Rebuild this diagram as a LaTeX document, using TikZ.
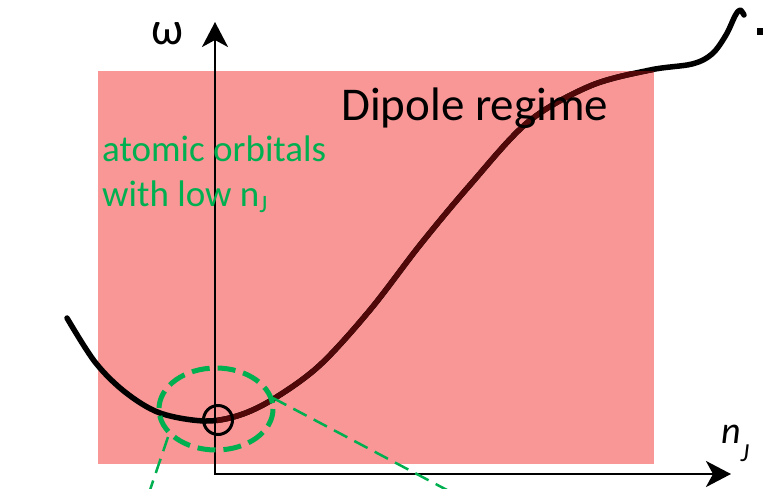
\documentclass[tikz,border=0pt]{standalone}
\usepackage{fontspec}
\setmainfont{Carlito}
\usetikzlibrary{arrows.meta}
\definecolor{pinkfill}{RGB}{249,150,150}
\definecolor{pptgreen}{RGB}{0,176,80}
\definecolor{darkcurve}{RGB}{80,8,8}
\newcommand\mycurvepts{(67,318) (95,362) (125,392) (160,413) (205,421) (240,415) (275,398) (320,365) (370,310) (420,245) (470,185) (528,122) (590,86) (650,70) (692,64) (712,54) (726,35) (735,16) (740,10) (744,15)}
\begin{document}
\begin{tikzpicture}[x=1pt,y=-1pt,
  curvestyle/.style={line width=5.5pt, line cap=round, line join=round},
  axisstyle/.style={line width=2.5pt, -{Stealth[length=25pt,width=26pt,inset=7pt]}},
  greendash/.style={pptgreen, line width=2.5pt, dash pattern=on 15pt off 8pt},
  ellipsedash/.style={pptgreen, line width=5pt, dash pattern=on 18pt off 8pt},
  lbl/.style={inner sep=0pt, anchor=base west}]
\useasboundingbox (0,0) rectangle (763,488);
\fill[pinkfill] (98,71) rectangle (654,464);
% curve
\draw[curvestyle] plot[smooth, tension=0.55] coordinates {\mycurvepts};
\begin{scope}
\clip (216.5,71) rectangle (654,464);
\draw[curvestyle, darkcurve] plot[smooth, tension=0.55] coordinates {\mycurvepts};
\end{scope}
% axes
\coordinate (O) at (215,474);
\coordinate (ytip) at (215,22);
\coordinate (xtip) at (731,474);
\draw[axisstyle] (O) -- (ytip);
\draw[axisstyle] ([xshift=-1.25pt]O) -- (xtip);
% small circle
\node[circle, draw, line width=3pt, minimum size=29pt, inner sep=0pt] (c) at (218,420) {};
% dashed ellipse
\draw[ellipsedash] (216,409) ellipse [x radius=57, y radius=41];
\coordinate (e1) at (168,437);
\coordinate (e2) at (273,398);
\coordinate (f1) at (150,490);
\coordinate (f2) at (447,490);
\draw[greendash] (e1) -- (f1);
\draw[greendash] (e2) -- (f2);
% bullet fragment
\fill (757,28) rectangle (763,35);
% labels
\node[lbl, font=\fontsize{46}{52}\selectfont] (om) at (151,44) {ω};
\node[lbl, font=\fontsize{47}{56}\selectfont] (dip) at (341,120) {Dipole regime};
\node[lbl, font=\fontsize{37}{45}\selectfont, text=pptgreen] (ao1) at (102,161) {atomic orbitals};
\node[lbl, font=\fontsize{37}{45}\selectfont, text=pptgreen] (ao2) at (102,206) {with low n\raisebox{-6pt}{\fontsize{25}{30}\selectfont J}};
\node[lbl, font=\fontsize{38}{45}\itshape] (nj) at (721,443) {n\raisebox{-18pt}{\fontsize{26}{30}\selectfont\itshape J}};
\end{tikzpicture}
\end{document}
